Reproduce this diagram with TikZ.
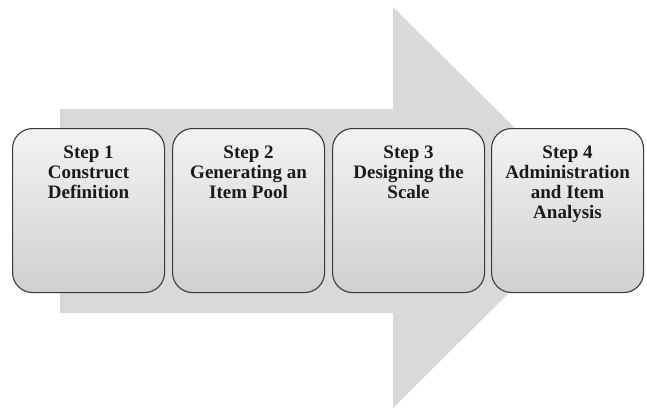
\documentclass[tikz,border=0pt]{standalone}
\usepackage{fontspec}
\setmainfont{Liberation Serif}
\definecolor{arrowgray}{HTML}{D9D9D9}
\definecolor{boxtop}{HTML}{F3F3F3}
\definecolor{boxbot}{HTML}{D0D0D0}
\definecolor{boxline}{HTML}{3A3A3A}
\definecolor{txt}{HTML}{1A1A1A}
\newcommand{\steptext}[1]{\parbox[c][164pt][t]{152pt}{\centering\fontsize{19}{20}\selectfont\bfseries\color{txt}\vspace*{17pt}#1\par}}
\tikzset{
  stepbox/.style={draw=boxline, line width=1.1pt, rounded corners=20pt,
    top color=boxtop, bottom color=boxbot, inner sep=0pt,
    minimum width=152pt, minimum height=164pt, anchor=north west}
}
\begin{document}
\begin{tikzpicture}[x=1pt,y=-1pt]
\useasboundingbox (0,0) rectangle (647,415);
% big background arrow
\fill[arrowgray] (60,109) -- (393,109) -- (393,7) -- (595,207.5) -- (393,408) -- (393,313) -- (60,313) -- cycle;
\node[stepbox] (s1) at (12,128) {\steptext{Step 1\\Construct\\Definition}};
\node[stepbox] (s2) at (172,128) {\steptext{Step 2\\Generating an\\Item Pool}};
\node[stepbox] (s3) at (332,128) {\steptext{Step 3\\Designing the\\Scale}};
\node[stepbox] (s4) at (491,128) {\steptext{Step 4\\Administration\\and Item\\Analysis}};
\end{tikzpicture}
\end{document}
